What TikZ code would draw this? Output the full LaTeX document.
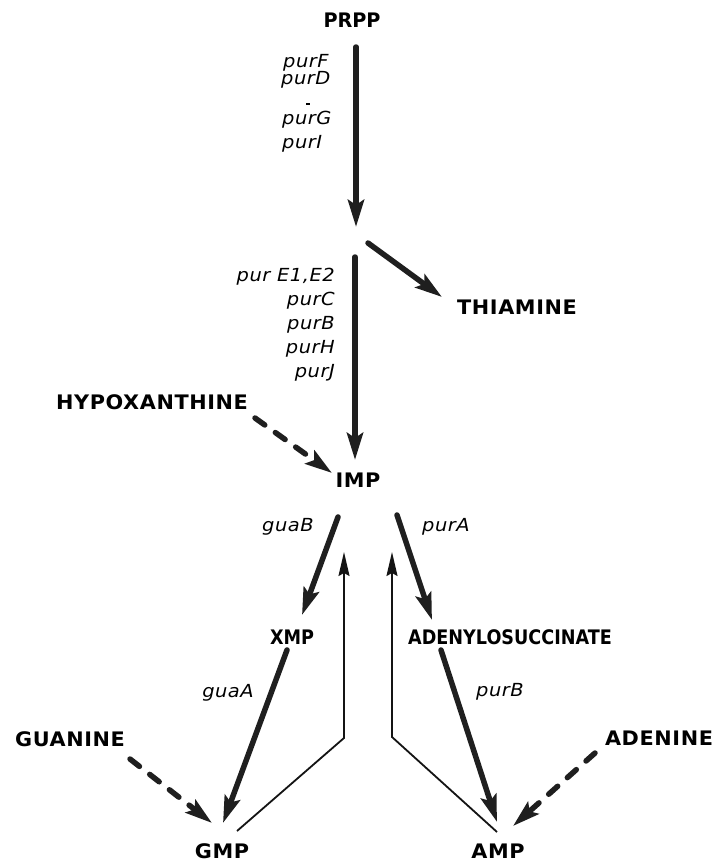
\documentclass[tikz,border=0pt]{standalone}
\usepackage{fontspec}
\newfontfamily\metfont{DejaVu Sans}[FakeStretch=1.04,LetterSpace=3]
\newfontfamily\metplain{DejaVu Sans}[FakeStretch=0.96,LetterSpace=0]
\newfontfamily\metnarrow{DejaVu Sans}[FakeStretch=0.88,LetterSpace=0]
\newfontfamily\genefont{DejaVu Sans}[FakeStretch=1.08,LetterSpace=3]
\usetikzlibrary{arrows.meta}
\begin{document}
\begin{tikzpicture}[x=1pt,y=-1pt,
  met/.style={font=\metfont\fontsize{20}{20}\selectfont\bfseries, inner sep=0pt},
  metn/.style={font=\metnarrow\fontsize{20}{20}\selectfont\bfseries, inner sep=0pt},
  metp/.style={font=\metplain\fontsize{20}{20}\selectfont\bfseries, inner sep=0pt},
  gene/.style={font=\genefont\fontsize{18}{18}\selectfont\itshape, inner sep=0pt},
  thickarr/.style={draw=black!88, line width=5.5pt, line cap=round,
    -{Stealth[length=27pt,width=16pt,inset=5pt]}},
  dasharr/.style={thickarr, dash pattern=on 12pt off 13pt},
  thinarr/.style={draw=black!92, line width=1.8pt, line join=miter,
    -{Stealth[length=24pt,width=11pt,inset=3pt]}}
]
\fill[white] (0,0) rectangle (717,865);
\useasboundingbox (0,0) rectangle (717,865);

% metabolites
\node[metp] (prpp)    at (352,20)  {PRPP};
\coordinate (mid)     at (356,235);
\node[met] (thiamine) at (517,307) {THIAMINE};
\node[met] (hypox)    at (152,402) {HYPOXANTHINE};
\node[met] (imp)      at (358,480) {IMP};
\node[metn] (xmp)     at (292,637) {XMP};
\node[metn] (adsucc)  at (510,637) {ADENYLOSUCCINATE};
\node[met] (guanine)  at (70,739)  {GUANINE};
\node[met] (adenine)  at (659,738) {ADENINE};
\node[met] (gmp)      at (222,851) {GMP};
\node[met] (amp)      at (498,851) {AMP};
\coordinate (gj) at (344,738);
\coordinate (aj) at (392,737);

% gene labels
\node[gene,anchor=west] (purF) at (283,63)  {purF};
\node[gene,anchor=west] (purD) at (281,80)  {purD};
\node[gene,anchor=west] (purG) at (282,120) {purG};
\node[gene,anchor=west] (purI) at (282,144) {purI};
\draw[line width=1.3pt] (306,104) -- (310,104);
\node[gene,anchor=east] (purE) at (335,277) {pur E1,E2};
\node[gene,anchor=east] (purC) at (335,301) {purC};
\node[gene,anchor=east] (purB) at (335,325) {purB};
\node[gene,anchor=east] (purH) at (335,349) {purH};
\node[gene,anchor=east] (purJ) at (335,373) {purJ};
\node[gene] (guaB)  at (288,527) {guaB};
\node[gene] (purA)  at (446,527) {purA};
\node[gene] (guaA)  at (228,693) {guaA};
\node[gene] (purBb) at (500,692) {purB};

% main pathway
\draw[thickarr] ([shift={(4,27)}]prpp.center) -- ([shift={(0,-8)}]mid);
\draw[thickarr] ([shift={(12,8)}]mid) -- ([shift={(-75,-10)}]thiamine.center);
\draw[thickarr] ([shift={(-1,22)}]mid) -- ([shift={(-3,-20)}]imp.center);
\draw[dasharr]  ([shift={(103,16)}]hypox.center) -- ([shift={(-26,-7)}]imp.center);
\draw[thickarr] ([shift={(-20,37)}]imp.center) -- ([shift={(10,-22)}]xmp.center);
\draw[thickarr] ([shift={(39,35)}]imp.center) -- ([shift={(-78,-17)}]adsucc.center);
\draw[thickarr] ([shift={(-5,13)}]xmp.center) -- ([shift={(1,-28)}]gmp.center);
\draw[thickarr] ([shift={(-69,13)}]adsucc.center) -- ([shift={(-1,-29)}]amp.center);
\draw[dasharr]  ([shift={(60,20)}]guanine.center) -- ([shift={(-10,-28)}]gmp.center);
\draw[dasharr]  ([shift={(-64,15)}]adenine.center) -- ([shift={(15,-25)}]amp.center);

% feedback
\draw[thinarr] ([shift={(15,-20)}]gmp.center) -- (gj) -- ([shift={(-14,72)}]imp.center);
\draw[thinarr] ([shift={(-1,-19)}]amp.center) -- (aj) -- ([shift={(34,72)}]imp.center);
\end{tikzpicture}
\end{document}
